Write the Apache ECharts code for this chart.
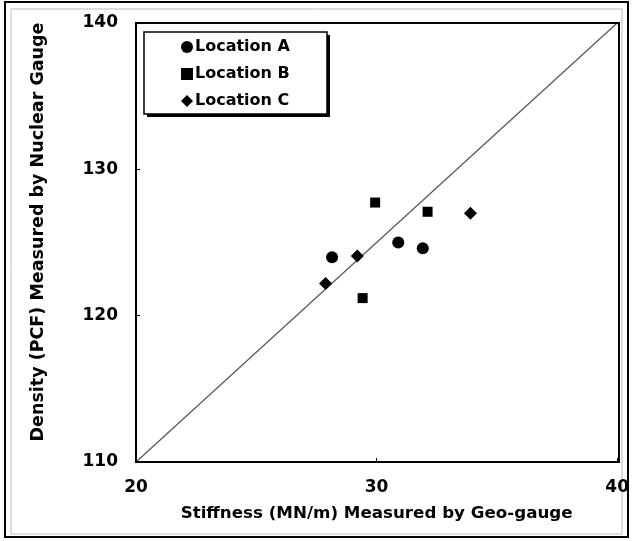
<!DOCTYPE html>
<html>
<head>
<meta charset="utf-8">
<script src="https://cdn.jsdelivr.net/npm/echarts@6/dist/echarts.min.js"></script>
<style>html,body{margin:0;padding:0;background:#fff}#c{width:632px;height:541px}</style>
</head>
<body>
<div id="c"></div>
<script>
var seriesNames = ['Location A', 'Location B', 'Location C'];
var locationA = [[28.15, 124.0], [30.9, 125.0], [31.92, 124.6]];
var locationB = [[29.94, 127.73], [32.12, 127.1], [29.42, 121.2]];
var locationC = [[27.88, 122.2], [29.2, 124.07], [33.9, 127.0]];
var equalityLine = [[20, 110], [40, 140]];
var xTicks = [20, 30, 40];
var yTicks = [110, 120, 130, 140];
var xTitle = 'Stiffness (MN/m) Measured by Geo-gauge';
var yTitle = 'Density (PCF) Measured by Nuclear Gauge';

var FONT = 'DejaVu Sans';
var chart = echarts.init(document.getElementById('c'), null, {renderer: 'canvas'});
var symbols = ['circle', 'rect', 'diamond'];
var sizes = [12, 10, 13];
var datasets = [locationA, locationB, locationC];

var series = datasets.map(function (d, i) {
  return {
    name: seriesNames[i], type: 'scatter', data: d,
    symbol: symbols[i], symbolSize: sizes[i],
    itemStyle: {color: '#000', opacity: 1}, z: 5
  };
});
series.push({
  name: 'line', type: 'line', data: equalityLine, symbol: 'none',
  lineStyle: {color: '#555', width: 1.2}, silent: true, z: 2
});

chart.setOption({
  animation: false,
  backgroundColor: '#fff',
  grid: {left: 136, right: 13, top: 23, bottom: 79, show: false},
  xAxis: {
    type: 'value', min: xTicks[0], max: xTicks[xTicks.length - 1], interval: 10,
    axisLine: {show: true, onZero: false, lineStyle: {color: '#000', width: 2}},
    axisTick: {show: true, inside: true, length: 4, lineStyle: {color: '#000'}},
    splitLine: {show: false},
    axisLabel: {color: '#000', fontFamily: FONT, fontWeight: 'bold', fontSize: 17, margin: 17},
    name: xTitle, nameLocation: 'middle', nameGap: 43,
    nameTextStyle: {color: '#000', fontFamily: FONT, fontWeight: 'bold', fontSize: 16.7}
  },
  yAxis: {
    type: 'value', min: yTicks[0], max: yTicks[yTicks.length - 1], interval: 10,
    axisLine: {show: true, onZero: false, lineStyle: {color: '#000', width: 2}},
    axisTick: {show: true, inside: true, length: 4, lineStyle: {color: '#000'}},
    splitLine: {show: false},
    axisLabel: {color: '#000', fontFamily: FONT, fontWeight: 'bold', fontSize: 17, margin: 18}
  },
  legend: {
    data: seriesNames.map(function (n, i) { return {name: n, icon: symbols[i]}; }),
    orient: 'vertical', left: 144, top: 32,
    padding: [7, 30, 6, 37], itemGap: 11, itemWidth: 12, itemHeight: 12,
    textStyle: {color: '#000', fontFamily: FONT, fontWeight: 'bold', fontSize: 16, padding: [0, 0, 0, -3]},
    z: 20
  },
  graphic: [
    {type: 'rect', shape: {x: 5, y: 2, width: 623, height: 535}, style: {fill: null, stroke: '#000', lineWidth: 2}, silent: true},
    {type: 'rect', shape: {x: 11, y: 9, width: 611, height: 525}, style: {fill: null, stroke: '#bbb', lineWidth: 1}, silent: true},
    {type: 'rect', shape: {x: 136, y: 23, width: 483, height: 439}, style: {fill: null, stroke: '#000', lineWidth: 2}, silent: true, z: 10},
    {type: 'rect', shape: {x: 147, y: 35, width: 183, height: 82}, style: {fill: '#000'}, silent: true, z: 11},
    {type: 'rect', shape: {x: 144, y: 32, width: 183, height: 82}, style: {fill: '#fff', stroke: '#000', lineWidth: 1.5}, silent: true, z: 12},
    {type: 'text', x: 38, y: 232, rotation: Math.PI / 2,
     style: {text: yTitle, fill: '#000', font: 'bold 17.5px "DejaVu Sans"', align: 'center', verticalAlign: 'middle'}}
  ],
  series: series
});
</script>
</body>
</html>
